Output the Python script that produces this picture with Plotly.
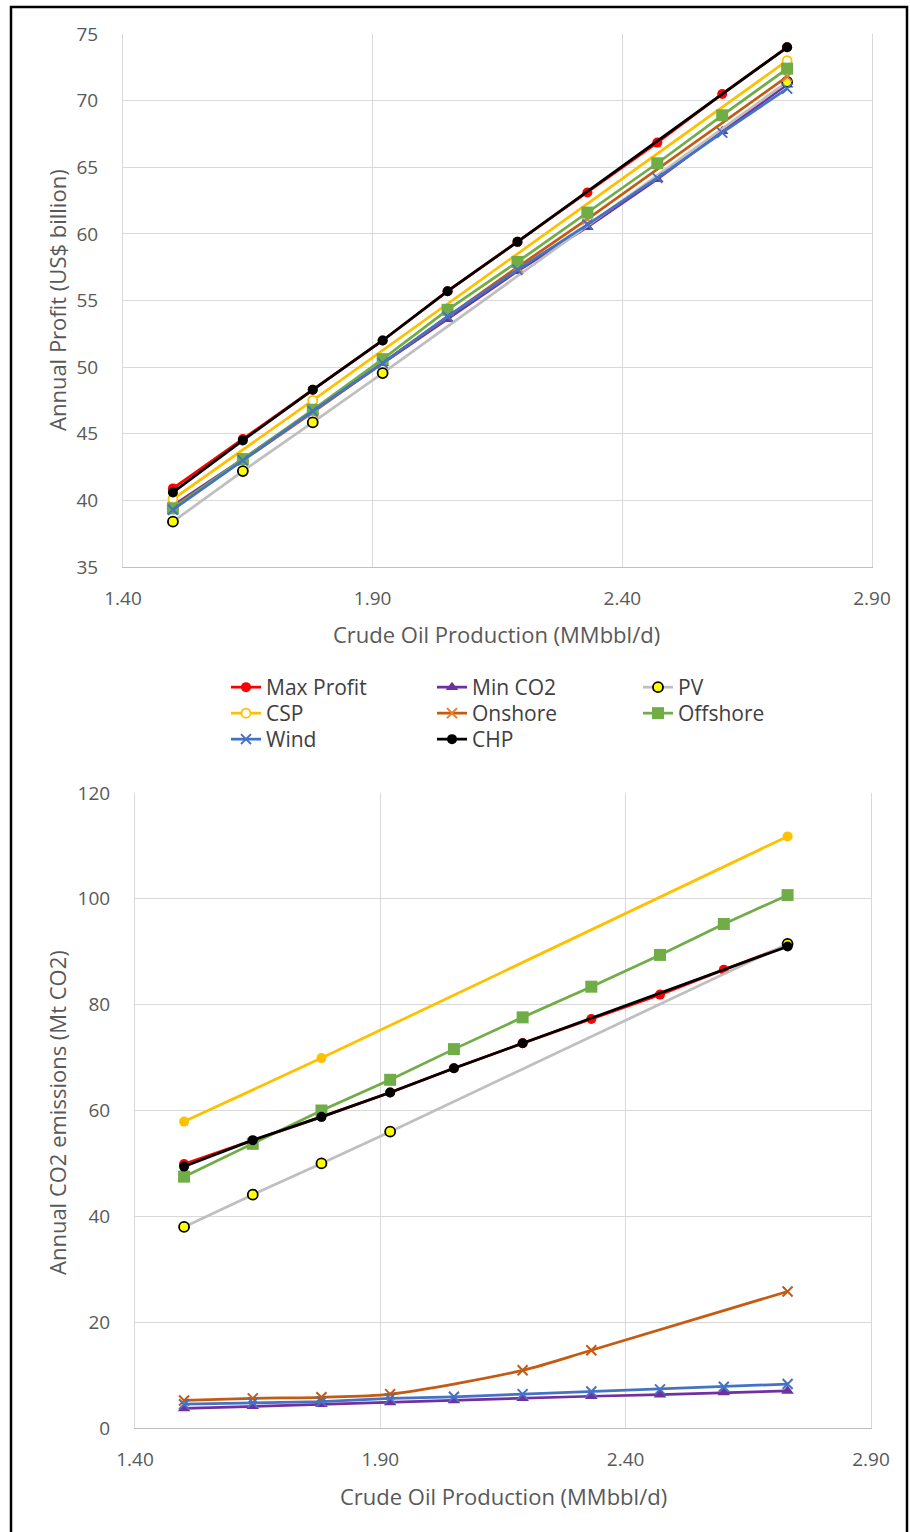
import plotly.graph_objects as go

W, H = 910, 1532

# ---------------- data ----------------
x_prod = [1.50, 1.64, 1.78, 1.92, 2.05, 2.19, 2.33, 2.47, 2.60, 2.73]

# Annual profit (US$ billion)
profit_max_profit = [40.9, 44.6, 48.3, 52.0, 55.7, 59.4, 63.1, 66.85, 70.5, 74.0]
profit_min_co2 = [39.6, 43.1, 46.7, 50.3, 53.6, 57.2, 60.5, 64.1, 67.7, 71.2]
profit_pv = [38.4, 42.2, 45.85, 49.55, None, None, None, None, None, 71.4]
profit_csp = [40.1, None, 47.5, None, None, None, None, None, None, 73.0]
profit_onshore = [39.5, 43.0, 46.6, 50.3, None, 57.5, 61.1, None, None, 71.8]
profit_offshore = [39.4, 43.1, 46.8, 50.6, 54.3, 57.9, 61.6, 65.3, 68.9, 72.4]
profit_wind = [39.3, 43.0, 46.7, 50.3, 53.8, 57.3, 60.7, 64.2, 67.6, 70.9]
profit_chp = [40.6, 44.5, 48.3, 52.0, 55.7, 59.4, None, None, None, 74.0]

# Annual CO2 emissions (Mt CO2)
co2_max_profit = [49.9, 54.3, 58.8, 63.4, 68.0, 72.7, 77.3, 81.9, 86.6, 91.2]
co2_min_co2 = [3.7, 4.1, 4.5, 4.8, 5.2, 5.6, 6.0, 6.3, 6.7, 7.0]
co2_pv = [38.0, 44.1, 50.0, 56.0, None, None, None, None, None, 91.5]
co2_csp = [57.9, None, 69.9, None, None, None, None, None, None, 111.8]
co2_onshore = [5.2, 5.6, 5.8, 6.4, None, 10.9, 14.7, None, None, 25.8]
co2_offshore = [47.5, 53.7, 60.0, 65.8, 71.6, 77.6, 83.4, 89.4, 95.25, 100.7]
co2_wind = [4.5, 4.8, 5.0, 5.6, 5.9, 6.4, 6.9, 7.3, 7.8, 8.3]
co2_chp = [49.4, 54.4, 58.8, 63.4, 68.0, 72.7, None, None, None, 91.0]

x_ticks = [1.40, 1.90, 2.40, 2.90]
profit_ticks = [35, 40, 45, 50, 55, 60, 65, 70, 75]
co2_ticks = [0, 20, 40, 60, 80, 100, 120]

# ---------------- styles ----------------
# name, profit, co2, line colour, top marker, bottom marker, legend id, line shape
series = [
    ("Max Profit", profit_max_profit, co2_max_profit, "#FF0000",
     dict(symbol="circle", size=10, color="#FF0000"),
     dict(symbol="circle", size=10, color="#FF0000"), "legend", "linear"),
    ("Min CO2", profit_min_co2, co2_min_co2, "#7030A0",
     dict(symbol="triangle-up", size=11, color="#7030A0"),
     dict(symbol="triangle-up", size=11, color="#7030A0"), "legend2", "linear"),
    ("PV", profit_pv, co2_pv, "#BFBFBF",
     dict(symbol="circle", size=10, color="#FFFF00", line=dict(color="#000000", width=1.8)),
     dict(symbol="circle", size=10, color="#FFFF00", line=dict(color="#000000", width=1.8)), "legend3", "linear"),
    ("CSP", profit_csp, co2_csp, "#FFC000",
     dict(symbol="circle", size=9, color="#FFFFFF", line=dict(color="#FFC000", width=1.8)),
     dict(symbol="circle", size=10, color="#FFC000"), "legend4", "linear"),
    ("Onshore", profit_onshore, co2_onshore, "#C55A11",
     dict(symbol="x-thin", size=10, color="#ED7D31", line=dict(color="#ED7D31", width=2)),
     dict(symbol="x-thin", size=10, color="#C55A11", line=dict(color="#C55A11", width=2)), "legend5", "spline"),
    ("Offshore", profit_offshore, co2_offshore, "#70AD47",
     dict(symbol="square", size=12, color="#70AD47"),
     dict(symbol="square", size=12, color="#70AD47"), "legend6", "linear"),
    ("Wind", profit_wind, co2_wind, "#4472C4",
     dict(symbol="x-thin", size=10, color="#4472C4", line=dict(color="#4472C4", width=2)),
     dict(symbol="x-thin", size=10, color="#4472C4", line=dict(color="#4472C4", width=2)), "legend7", "linear"),
    ("CHP", profit_chp, co2_chp, "#000000",
     dict(symbol="circle", size=10, color="#000000"),
     dict(symbol="circle", size=10, color="#000000"), "legend8", "linear"),
]

fig = go.Figure()
for name, pv, cv, lc, mk_top, mk_bot, lg, shape in series:
    fig.add_trace(go.Scatter(
        x=x_prod, y=pv, name=name, mode="lines+markers", connectgaps=True,
        line=dict(color=lc, width=2.75), marker=mk_top,
        xaxis="x", yaxis="y", legend=lg, showlegend=True))
    fig.add_trace(go.Scatter(
        x=x_prod, y=cv, name=name, mode="lines+markers", connectgaps=True,
        line=dict(color=lc, width=2.75, shape=shape, smoothing=0.8), marker=mk_bot,
        xaxis="x2", yaxis="y2", showlegend=False))

FONT = "Open Sans"
TICKC = "#595959"
GRID = "#D9D9D9"


def px_x(p):
    return p / W


def px_y(p):
    return 1 - p / H


xcommon = dict(range=[1.4, 2.9], tickvals=x_ticks, tickformat=".2f",
               showgrid=True, gridcolor=GRID, gridwidth=1, zeroline=False,
               showline=True, linecolor="#BFBFBF", linewidth=1.3, ticks="",
               tickfont=dict(family=FONT, size=19, color=TICKC),
               ticklabelstandoff=14, automargin=False, fixedrange=True)
ycommon = dict(showgrid=True, gridcolor=GRID, gridwidth=1, zeroline=False,
               showline=True, linecolor=GRID, linewidth=1, mirror=True, ticks="",
               tickfont=dict(family=FONT, size=19, color=TICKC),
               ticklabelstandoff=20, automargin=False, fixedrange=True)

legend_common = dict(orientation="v", xanchor="left", yanchor="top",
                     bgcolor="rgba(0,0,0,0)", borderwidth=0,
                     font=dict(family=FONT, size=21, color="#404040"),
                     itemwidth=30, tracegroupgap=0)

# legend grid: 3 columns, 3 rows (positions in page pixels)
col_px = [226, 432, 638]
row_px = [667, 693, 719]
legend_cells = {
    "legend": (0, 0), "legend2": (1, 0), "legend3": (2, 0),
    "legend4": (0, 1), "legend5": (1, 1), "legend6": (2, 1),
    "legend7": (0, 2), "legend8": (1, 2),
}
legend_layout = {
    key: dict(x=px_x(col_px[c]), y=px_y(row_px[r]), **legend_common)
    for key, (c, r) in legend_cells.items()
}

title_font = dict(family=FONT, size=22, color=TICKC)

fig.update_layout(
    width=W, height=H,
    margin=dict(l=0, r=0, t=0, b=0),
    paper_bgcolor="white", plot_bgcolor="white",
    showlegend=True,
    xaxis=dict(domain=[px_x(123), px_x(872)], anchor="y", **xcommon),
    yaxis=dict(domain=[px_y(567), px_y(34)], anchor="x", range=[35, 75],
               tickvals=profit_ticks, **ycommon),
    xaxis2=dict(domain=[px_x(135), px_x(871)], anchor="y2", **xcommon),
    yaxis2=dict(domain=[px_y(1428), px_y(793)], anchor="x2", range=[0, 120],
                tickvals=co2_ticks, **ycommon),
    annotations=[
        dict(text="Crude Oil Production (MMbbl/d)", xref="paper", yref="paper",
             x=px_x(497), y=px_y(634), xanchor="center", yanchor="middle",
             showarrow=False, font=title_font),
        dict(text="Annual Profit (US$ billion)", xref="paper", yref="paper",
             x=px_x(57), y=px_y(300), xanchor="center", yanchor="middle",
             showarrow=False, textangle=-90, font=title_font),
        dict(text="Crude Oil Production (MMbbl/d)", xref="paper", yref="paper",
             x=px_x(503), y=px_y(1496), xanchor="center", yanchor="middle",
             showarrow=False, font=title_font),
        dict(text="Annual CO2 emissions (Mt CO2)", xref="paper", yref="paper",
             x=px_x(57), y=px_y(1113), xanchor="center", yanchor="middle",
             showarrow=False, textangle=-90, font=title_font),
    ],
    shapes=[
        dict(type="rect", xref="paper", yref="paper",
             x0=px_x(11), x1=px_x(907), y0=px_y(1545), y1=px_y(7),
             line=dict(color="black", width=2.5), fillcolor="rgba(0,0,0,0)", layer="above"),
    ],
    **legend_layout,
)

fig.write_html(
    "out.html",
    config={"displayModeBar": False},
    post_script="document.body.style.margin='0';document.body.style.padding='0';document.body.style.overflow='hidden';",
)
